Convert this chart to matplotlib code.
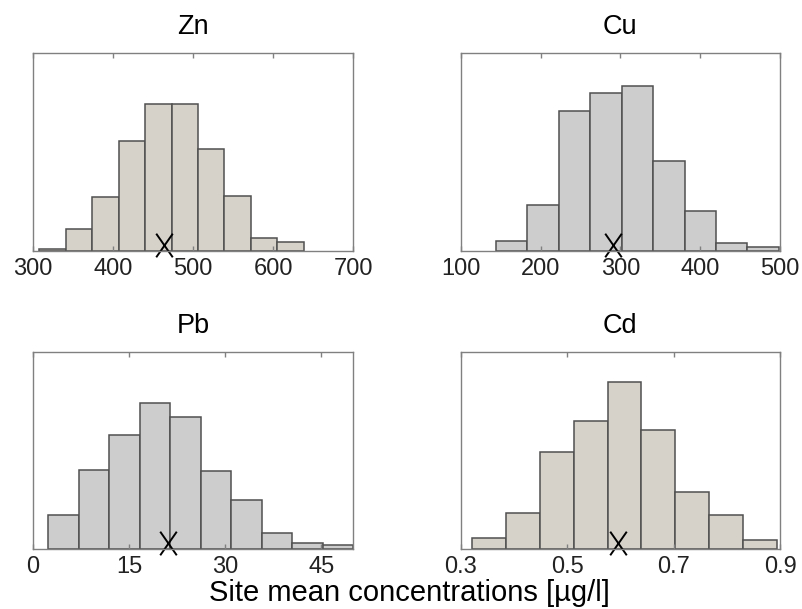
import numpy as np
import matplotlib.pyplot as plt
from matplotlib.path import Path

# Histogram of 1000 site mean concentrations for each metal
metals = ['Zn', 'Cu', 'Pb', 'Cd']

znEdges = [308, 341, 374, 407, 440, 473, 506, 539, 572, 605, 638]
znCounts = [3, 33, 82, 167, 223, 223, 154, 83, 19, 13]
cuEdges = [144, 183.4, 222.8, 262.2, 301.6, 341, 380.4, 419.8, 459.2, 498.6]
cuCounts = [15, 69, 212, 240, 251, 137, 60, 11, 5]
pbEdges = [2.4, 7.16, 11.92, 16.68, 21.44, 26.2, 30.96, 35.72, 40.48, 45.24, 50]
pbCounts = [51, 120, 174, 222, 201, 119, 74, 24, 9, 6]
cdEdges = [0.322, 0.3855, 0.449, 0.5125, 0.576, 0.6395, 0.703, 0.7665, 0.83, 0.8935]
cdCounts = [17, 55, 147, 195, 254, 181, 86, 51, 14]

# observed site means (the X marks)
obsMeans = [463, 291, 21.1, 0.595]

xLims = [(300, 700), (100, 500), (0, 50), (0.3, 0.9)]
xTicks = [[300, 400, 500, 600, 700], [100, 200, 300, 400, 500],
          [0, 15, 30, 45], [0.3, 0.5, 0.7, 0.9]]
xTickLabels = [['300', '400', '500', '600', '700'], ['100', '200', '300', '400', '500'],
               ['0', '15', '30', '45'], ['0.3', '0.5', '0.7', '0.9']]

edges = [znEdges, cuEdges, pbEdges, cdEdges]
counts = [znCounts, cuCounts, pbCounts, cdCounts]
fillColors = ['#d6d2ca', '#cdcdcd', '#cdcdcd', '#d6d2ca']

plt.rcParams['font.family'] = ['Liberation Sans', 'DejaVu Sans']

fig = plt.figure(figsize=(8.03, 6.09), dpi=100)
axPos = [[0.0411, 0.5883, 0.3989, 0.3242],
         [0.5737, 0.5883, 0.3977, 0.3242],
         [0.0411, 0.0990, 0.3989, 0.3230],
         [0.5737, 0.0990, 0.3977, 0.3230]]

# letter-like X marker, taller than wide
xMark = Path([(-0.35, -0.5), (0.35, 0.5), (-0.35, 0.5), (0.35, -0.5)],
             [Path.MOVETO, Path.LINETO, Path.MOVETO, Path.LINETO])

for i in range(4):
    ax = fig.add_axes(axPos[i])
    e = np.array(edges[i])
    ax.bar(e[:-1], counts[i], width=np.diff(e), align='edge',
           color=fillColors[i], edgecolor='#505050', linewidth=1.1)
    ax.plot(obsMeans[i], 0.027, marker=xMark, ms=17, mew=1.4, color='k',
            linestyle='none', transform=ax.get_xaxis_transform(), clip_on=False)
    ax.set_xlim(xLims[i])
    ax.set_ylim(0, 300)
    ax.set_xticks(xTicks[i])
    ax.set_xticklabels(xTickLabels[i])
    ax.set_yticks([])
    ax.tick_params(axis='x', direction='in', top=True, length=3.5, width=1,
                   color='#808080', labelsize=17, labelcolor='#222222', pad=5.5)
    for s in ax.spines.values():
        s.set_color('#808080')
        s.set_linewidth(1)
    ax.set_title(metals[i], fontsize=19.5, pad=14)

fig.text(0.51, 0.013, 'Site mean concentrations [\u00b5g/l]', fontsize=21,
         ha='center', va='baseline')

plt.savefig('out.png', dpi=100)
